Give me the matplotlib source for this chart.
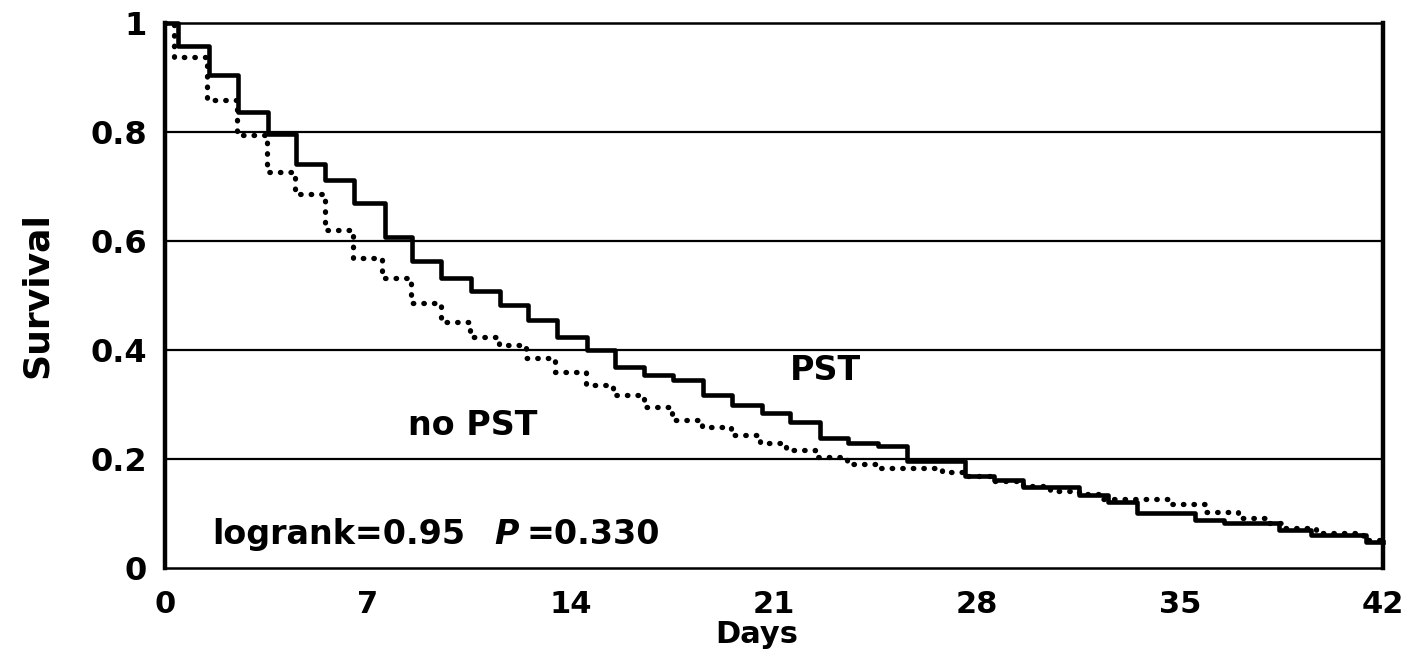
import matplotlib
matplotlib.use("Agg")
import matplotlib.pyplot as plt

# Kaplan-Meier (dni, przezycie)
pst_days = [0, 0.46, 1.5, 2.53, 3.56, 4.5, 5.52, 6.5, 7.59, 8.53, 9.5, 10.55,
            11.55, 12.53, 13.5, 14.56, 15.52, 16.5, 17.53, 18.56, 19.54, 20.57,
            21.55, 22.6, 23.56, 24.6, 25.6, 27.6, 28.6, 29.6, 31.5, 32.5, 33.5,
            35.5, 36.5, 38.4, 39.5, 41.4, 42]
pst_surv = [1.0, 0.957, 0.905, 0.837, 0.797, 0.742, 0.712, 0.669, 0.608, 0.563,
            0.533, 0.508, 0.483, 0.455, 0.424, 0.400, 0.369, 0.354, 0.345, 0.317,
            0.299, 0.284, 0.268, 0.238, 0.229, 0.223, 0.197, 0.168, 0.162, 0.149,
            0.134, 0.121, 0.101, 0.088, 0.082, 0.070, 0.060, 0.048, 0.048]

nopst_days = [0, 0.3, 1.44, 2.47, 3.5, 4.48, 5.52, 6.48, 7.47, 8.48, 9.5, 10.5,
              11.5, 12.45, 13.45, 14.5, 15.46, 16.5, 17.47, 18.5, 19.5, 20.5,
              21.4, 22.4, 23.5, 24.6, 26.8, 27.6, 28.6, 29.6, 30.5, 31.5, 32.3,
              34.7, 35.9, 37.0, 38.0, 38.6, 39.7, 41.3, 42]
nopst_surv = [1.0, 0.938, 0.859, 0.794, 0.727, 0.687, 0.620, 0.568, 0.532, 0.486,
              0.452, 0.424, 0.409, 0.385, 0.360, 0.336, 0.317, 0.296, 0.272, 0.259,
              0.244, 0.229, 0.217, 0.204, 0.190, 0.184, 0.177, 0.168, 0.160, 0.150,
              0.142, 0.135, 0.127, 0.117, 0.103, 0.092, 0.083, 0.073, 0.064, 0.051,
              0.051]

x_ticks = [0, 7, 14, 21, 28, 35, 42]
y_ticks = [0, 0.2, 0.4, 0.6, 0.8, 1.0]
y_tick_labels = ["0", "0.2", "0.4", "0.6", "0.8", "1"]

plt.rcParams['font.family'] = ['DejaVu Sans']
plt.rcParams['font.weight'] = 'bold'

fig = plt.figure(figsize=(14.12, 6.69), dpi=100)
ax = fig.add_axes([0.1169, 0.151, 0.8626, 0.8146])

# linie siatki poziome
for y in y_ticks[1:-1]:
    ax.axhline(y, color='black', lw=1.6, zorder=1)

ax.step(pst_days, pst_surv, where='post', color='black', lw=3.3, zorder=3,
        clip_on=False)
ax.step(nopst_days, nopst_surv, where='post', color='black', lw=3.8,
        linestyle=(0, (0.1, 1.9)), dash_capstyle='round', zorder=2, clip_on=False)

ax.set_xlim(0, 42)
ax.set_ylim(0, 1)
ax.set_xticks(x_ticks)
ax.set_xticklabels([str(t) for t in x_ticks], fontsize=22, fontweight='bold')
ax.set_yticks(y_ticks)
ax.set_yticklabels(y_tick_labels, fontsize=23, fontweight='bold')
ax.tick_params(axis='x', length=0, pad=16)
ax.tick_params(axis='y', length=0, pad=13)

for side in ['left', 'right']:
    ax.spines[side].set_linewidth(3.2)
for side in ['top', 'bottom']:
    ax.spines[side].set_linewidth(1.8)

ax.set_xlabel('Days', fontsize=22, fontweight='bold', labelpad=-1)
ax.xaxis.set_label_coords(0.486, -0.095)
ax.set_ylabel('Survival', fontsize=26, fontweight='bold', labelpad=26)

# adnotacje
ax.text(21.55, 0.363, 'PST', fontsize=24, fontweight='bold', va='center', ha='left')
ax.text(8.38, 0.262, 'no PST', fontsize=24, fontweight='bold', va='center', ha='left')
ax.text(1.62, 0.062, 'logrank=0.95', fontsize=24, fontweight='bold', va='center', ha='left')
ax.text(11.35, 0.062, 'P', fontsize=24, fontweight='bold', fontstyle='italic',
        va='center', ha='left')
ax.text(12.45, 0.062, '=0.330', fontsize=24, fontweight='bold', va='center', ha='left')

fig.savefig('out.png', dpi=100)
